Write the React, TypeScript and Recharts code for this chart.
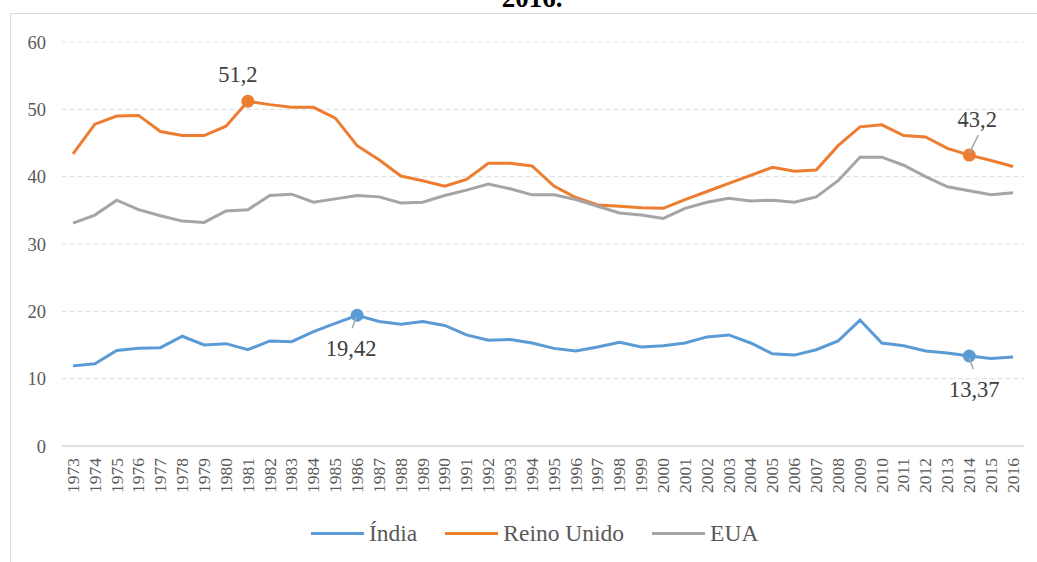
import { LineChart, Line, XAxis, YAxis, CartesianGrid, Legend } from "recharts";

const YEARS = [
  "1973", "1974", "1975", "1976", "1977", "1978", "1979", "1980", "1981", "1982", "1983",
  "1984", "1985", "1986", "1987", "1988", "1989", "1990", "1991", "1992", "1993", "1994",
  "1995", "1996", "1997", "1998", "1999", "2000", "2001", "2002", "2003", "2004", "2005",
  "2006", "2007", "2008", "2009", "2010", "2011", "2012", "2013", "2014", "2015", "2016",
];

const INDIA = [
  11.9, 12.2, 14.2, 14.5, 14.6, 16.3, 15.0, 15.2, 14.3, 15.6, 15.5, 17.0, 18.2, 19.42,
  18.5, 18.1, 18.5, 17.9, 16.5, 15.7, 15.8, 15.3, 14.5, 14.1, 14.7, 15.4, 14.7, 14.9, 15.3,
  16.2, 16.5, 15.3, 13.7, 13.5, 14.3, 15.6, 18.7, 15.3, 14.9, 14.1, 13.8, 13.37, 13.0, 13.2,
];

const REINO_UNIDO = [
  43.4, 47.8, 49.0, 49.1, 46.7, 46.1, 46.1, 47.5, 51.2, 50.7, 50.3, 50.3, 48.7,
  44.6, 42.5, 40.1, 39.4, 38.6, 39.6, 42.0, 42.0, 41.6, 38.6, 36.9, 35.8, 35.6, 35.4, 35.3, 36.6,
  37.8, 39.0, 40.2, 41.4, 40.8, 41.0, 44.6, 47.4, 47.7, 46.1, 45.9, 44.2, 43.2, 42.4, 41.5,
];

const EUA = [
  33.1, 34.3, 36.5, 35.1, 34.2, 33.4, 33.2, 34.9, 35.1, 37.2, 37.4, 36.2, 36.7,
  37.2, 37.0, 36.1, 36.2, 37.2, 38.0, 38.9, 38.2, 37.3, 37.3, 36.6, 35.6, 34.6, 34.3, 33.8, 35.3,
  36.2, 36.8, 36.4, 36.5, 36.2, 37.0, 39.4, 42.9, 42.9, 41.7, 40.0, 38.5, 37.9, 37.3, 37.6,
];

const Y_TICKS = [0, 10, 20, 30, 40, 50, 60];

// highlighted points: which year gets a marker + value label
const HIGHLIGHT_INDIA = ["1986", "2014"];
const HIGHLIGHT_REINO = ["1981", "2014"];

const data = YEARS.map((ano, i) => ({
  ano,
  india: INDIA[i],
  reino: REINO_UNIDO[i],
  eua: EUA[i],
}));

const FONT = "'Liberation Serif', Tinos, 'Times New Roman', Times, 'DejaVu Serif', serif";
const C_INDIA = "#5B9BD5";
const C_REINO = "#ED7D31";
const C_EUA = "#A5A5A5";

// label placement relative to the point (text centre / baseline, optional leader)
const LABEL_POS: Record<string, { dx: number; dy: number; lead?: [number, number, number, number] }> = {
  "reino-1981": { dx: -10, dy: -19 },
  "reino-2014": { dx: 8, dy: -28, lead: [9, -20, 0, -2] },
  "india-1986": { dx: -6, dy: 41, lead: [-5, 13, -1, 2] },
  "india-2014": { dx: 5, dy: 41, lead: [4, 13, 0, 2] },
};

const fmt = (v: number) => String(v).replace(".", ",");

function makeDot(key: string, color: string, years: string[]) {
  return (props: any) => {
    const { cx, cy, payload, index } = props;
    if (!years.includes(payload.ano)) return <g key={`${key}-${index}`} />;
    const pos = LABEL_POS[`${key}-${payload.ano}`];
    const v = payload[key];
    return (
      <g key={`${key}-${index}`}>
        <circle cx={cx} cy={cy} r={6.5} fill={color} />
        {pos.lead && (
          <line
            x1={cx + pos.lead[0]} y1={cy + pos.lead[1]}
            x2={cx + pos.lead[2]} y2={cy + pos.lead[3]}
            stroke="#a6a6a6" strokeWidth={1.5}
          />
        )}
        <text x={cx + pos.dx} y={cy + pos.dy} textAnchor="middle" fill="#404040" style={{ fontFamily: FONT, fontSize: 22.5 }}>
          {fmt(v)}
        </text>
      </g>
    );
  };
}

function YearTick(props: any) {
  const { x, y, payload } = props;
  return (
    <g transform={`translate(${x},${y})`}>
      <text transform="rotate(-90)" textAnchor="end" dy="0.33em" fill="#595959" style={{ fontFamily: FONT, fontSize: 17.5 }}>
        {payload.value}
      </text>
    </g>
  );
}

const LEGEND_ITEMS = [
  { name: "Índia", color: C_INDIA },
  { name: "Reino Unido", color: C_REINO },
  { name: "EUA", color: C_EUA },
];

function LegendBox() {
  return (
    <div style={{ display: "flex", alignItems: "center", height: 38, paddingLeft: 311, fontFamily: FONT }}>
      {LEGEND_ITEMS.map((it) => (
        <div key={it.name} style={{ display: "flex", alignItems: "center", marginRight: 28 }}>
          <div style={{ width: 53, height: 3, background: it.color, marginRight: 5 }} />
          <span style={{ fontSize: 23.5, color: "#595959", lineHeight: "38px" }}>{it.name}</span>
        </div>
      ))}
    </div>
  );
}

export default function App() {
  return (
    <div
      style={{
        position: "absolute", left: 0, top: 0, width: 1037, height: 562,
        overflow: "hidden", background: "#fff", fontFamily: FONT,
      }}
    >
      <div
        style={{
          position: "absolute", left: 9.5, top: 13, width: 1100, height: 600,
          border: "1px solid #d9d9d9", boxSizing: "border-box",
        }}
      />
      <div
        style={{
          position: "absolute", left: 0, top: -15, width: 1064, textAlign: "center",
          fontSize: 27, fontWeight: "bold", lineHeight: "27px", color: "#000", fontFamily: FONT,
        }}
      >
        2016.
      </div>
      <div style={{ position: "absolute", left: 0, top: 0 }}>
        <LineChart width={1037} height={562} data={data} margin={{ top: 42, right: 13, left: 0, bottom: 10 }}>
          <CartesianGrid vertical={false} stroke="#e3e3e3" strokeDasharray="5 3" strokeWidth={1.2} />
          <XAxis
            dataKey="ano"
            interval={0}
            height={68}
            padding={{ left: 11, right: 11 }}
            axisLine={{ stroke: "#d9d9d9", strokeWidth: 1.5 }}
            tickLine={false}
            tickSize={0}
            tickMargin={12}
            tick={<YearTick />}
          />
          <YAxis
            domain={[0, 60]}
            ticks={Y_TICKS}
            width={62}
            axisLine={false}
            tickLine={false}
            tickSize={0}
            tickMargin={16}
            tick={{ fontSize: 18.5, fill: "#595959", style: { fontFamily: FONT } }}
          />
          <Legend verticalAlign="bottom" content={() => <LegendBox />} />
          <Line
            type="linear" dataKey="india" name="Índia" stroke={C_INDIA} strokeWidth={3}
            dot={makeDot("india", C_INDIA, HIGHLIGHT_INDIA)} activeDot={false} isAnimationActive={false}
          />
          <Line
            type="linear" dataKey="reino" name="Reino Unido" stroke={C_REINO} strokeWidth={3}
            dot={makeDot("reino", C_REINO, HIGHLIGHT_REINO)} activeDot={false} isAnimationActive={false}
          />
          <Line
            type="linear" dataKey="eua" name="EUA" stroke={C_EUA} strokeWidth={3}
            dot={false} activeDot={false} isAnimationActive={false}
          />
        </LineChart>
      </div>
    </div>
  );
}
